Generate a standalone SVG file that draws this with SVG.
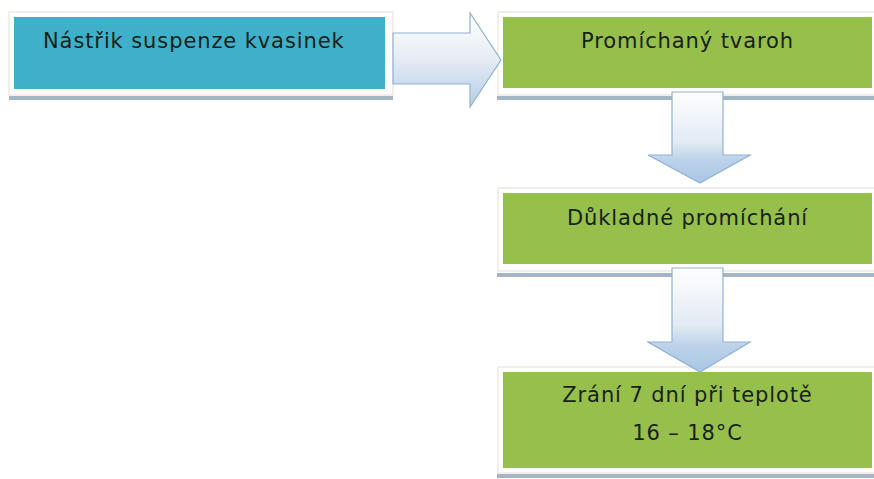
<svg xmlns="http://www.w3.org/2000/svg" width="874" height="479" viewBox="0 0 874 479">
  <style>
    .frame { fill: #ffffff; stroke: #efe9e6; stroke-width: 1.5; }
    .base { fill: #a3b6c4; }
    .blue { fill: #3eb0ca; }
    .green { fill: #96bf4b; }
    .label { font-family: "DejaVu Sans", "Verdana", sans-serif; font-size: 21px; fill: #18221b; letter-spacing: 0.9px; }
    .arrow { stroke: #8fb2d3; stroke-width: 1.2; }
  </style>
  <defs>
    <linearGradient id="gradRight" x1="0" y1="0" x2="0" y2="1">
      <stop offset="0" stop-color="#ffffff"/>
      <stop offset="0.45" stop-color="#e8eef6"/>
      <stop offset="1" stop-color="#b6cde6"/>
    </linearGradient>
    <linearGradient id="gradDown" x1="0" y1="0" x2="0" y2="1">
      <stop offset="0" stop-color="#ffffff"/>
      <stop offset="0.55" stop-color="#e2eaf4"/>
      <stop offset="0.75" stop-color="#bcd2ea"/>
      <stop offset="1" stop-color="#a9c6e4"/>
    </linearGradient>
  </defs>
  <rect width="874" height="479" fill="#ffffff"/>

  <g id="node-nastrik">
    <rect class="base" x="9" y="96" width="384" height="4"/>
    <rect class="frame" x="9" y="12" width="384" height="83"/>
    <rect class="blue" x="14" y="17" width="371" height="72"/>
    <text class="label" x="43" y="48">Nástřik suspenze kvasinek</text>
  </g>

  <g id="node-tvaroh">
    <rect class="base" x="497" y="96" width="377" height="4"/>
    <rect class="frame" x="498" y="12" width="380" height="83"/>
    <rect class="green" x="503" y="17" width="369" height="71"/>
    <text class="label" x="687.5" y="48" text-anchor="middle">Promíchaný tvaroh</text>
  </g>

  <g id="node-promichani">
    <rect class="base" x="497" y="273" width="377" height="4"/>
    <rect class="frame" x="498" y="188" width="380" height="83"/>
    <rect class="green" x="503" y="193" width="369" height="71"/>
    <text class="label" x="687.5" y="225" text-anchor="middle">Důkladné promíchání</text>
  </g>

  <g id="node-zrani">
    <rect class="base" x="497" y="474" width="377" height="4"/>
    <rect class="frame" x="498" y="367" width="380" height="106"/>
    <rect class="green" x="503" y="372" width="369" height="96"/>
    <text class="label" x="687.5" y="402" text-anchor="middle">Zrání 7 dní při teplotě</text>
    <text class="label" x="687.5" y="440" text-anchor="middle">16 – 18°C</text>
  </g>

  <g id="connectors">
    <path class="arrow" fill="url(#gradRight)" d="M393,33 L470,33 L470,13 L501,60 L470,107 L470,84 L393,84 Z"/>
    <path class="arrow" fill="url(#gradDown)" d="M672,92 L723,92 L723,155 L750,155 L700,183 L648,155 L672,155 Z"/>
    <path class="arrow" fill="url(#gradDown)" d="M672,268 L723,268 L723,342 L750,342 L700,372 L648,342 L672,342 Z"/>
  </g>
</svg>
